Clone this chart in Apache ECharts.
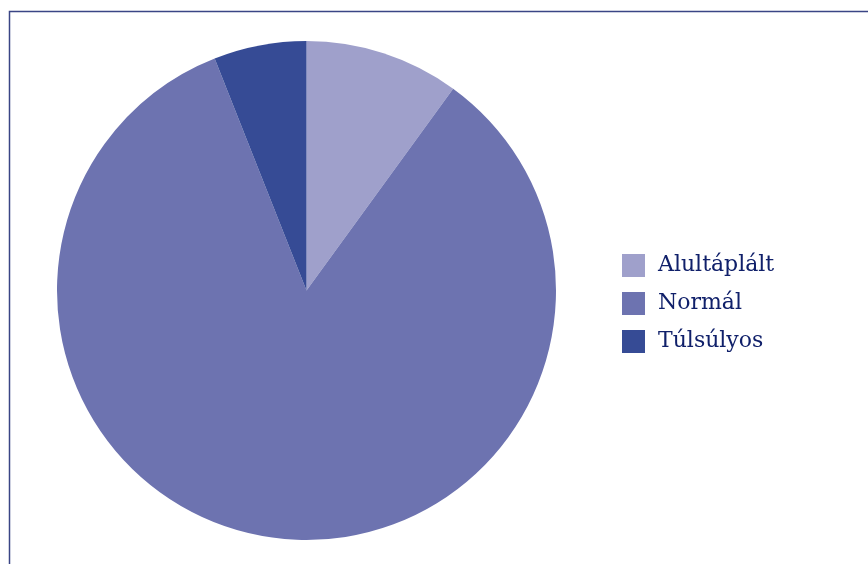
<!DOCTYPE html>
<html>
<head>
<meta charset="utf-8">
<script src="https://cdn.jsdelivr.net/npm/echarts@6/dist/echarts.min.js"></script>
<style>
  html, body { margin: 0; padding: 0; background: #ffffff; }
  #chart { width: 868px; height: 564px; }
</style>
</head>
<body>
<div id="chart"></div>
<script>
// Testsúly-kategóriák megoszlása (%)
const categories = ['Alultáplált', 'Normál', 'Túlsúlyos'];
const shares = [10, 84, 6];
const colors = ['#9fa0cb', '#6d73b0', '#364b95'];

const chart = echarts.init(document.getElementById('chart'), null, { renderer: 'canvas' });

chart.setOption({
  backgroundColor: '#ffffff',
  animation: false,
  color: colors,
  graphic: [
    {
      type: 'polyline',
      shape: { points: [[9.5, 566], [9.5, 11.5], [870, 11.5]] },
      style: { stroke: '#3a4585', lineWidth: 1.5, fill: null },
      silent: true
    }
  ],
  legend: {
    orient: 'vertical',
    left: 622,
    top: 254,
    padding: 0,
    itemWidth: 23,
    itemHeight: 23,
    itemGap: 15,
    icon: 'rect',
    textStyle: {
      fontFamily: 'DejaVu Serif',
      fontSize: 22,
      color: '#10206a',
      padding: [0, 0, 0, 8]
    },
    data: categories
  },
  series: [
    {
      type: 'pie',
      center: [306.5, 290.5],
      radius: [0, 249.5],
      startAngle: 90,
      clockwise: true,
      label: { show: false },
      labelLine: { show: false },
      itemStyle: { borderWidth: 0 },
      emphasis: { disabled: true },
      data: categories.map((name, i) => ({ name: name, value: shares[i] }))
    }
  ]
});
</script>
</body>
</html>
